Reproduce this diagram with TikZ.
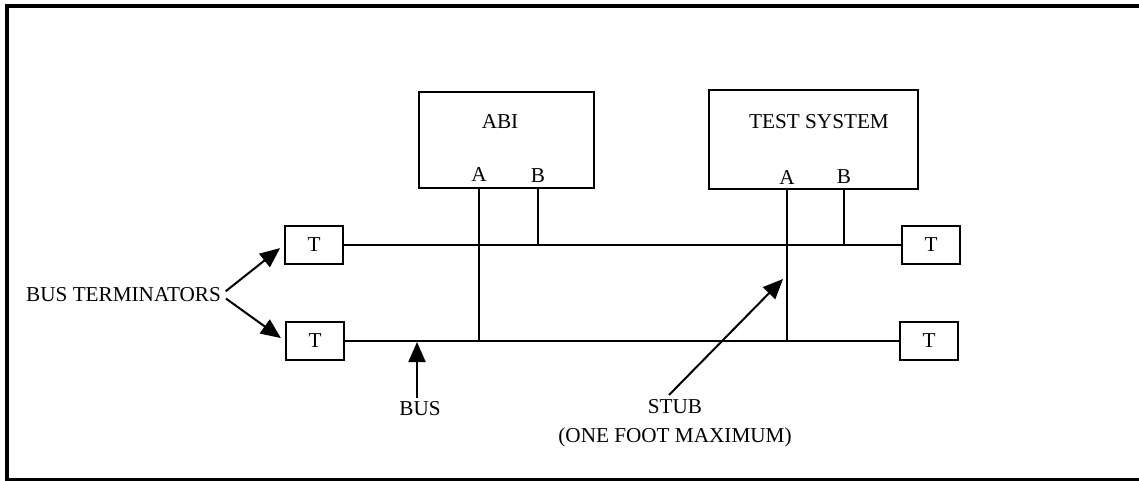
\documentclass[tikz,border=0pt]{standalone}
\usepackage{fontspec}
\setmainfont{Liberation Serif}
\usetikzlibrary{arrows.meta}
\newcommand{\term}[3]{
	\node[termbox] (#1) at (#2,#3) {T};
	}

\begin{document}
\begin{tikzpicture}[
      x=1pt, y=-1pt, %one unit is one pixel of the reference
      font=\fontsize{21.2}{29}\selectfont,
      wire/.style={line width=2pt},
      frame/.style={line width=4pt},
      termbox/.style={draw, line width=2pt, minimum width=58pt, minimum height=38pt, inner sep=0pt},
      unit/.style={draw, line width=2pt, inner sep=0pt},
      pin/.style={inner sep=0pt},
      pointer/.style={line width=2pt, -{Triangle[length=20pt,width=17pt]}}
    ]
    \useasboundingbox (0,0) rectangle (1139,481);
    % outer frame, its right side runs off the page
    \draw[frame] (1160,6) -- (7,6) -- (7,479.5) -- (1160,479.5);
    % the two units
    \node[unit, minimum width=175pt, minimum height=96pt] (abi) at (506.5,140) {};
    \node[inner sep=0pt] (abitxt) at (500,122) {ABI};
    \node[unit, minimum width=209pt, minimum height=99pt] (test) at (813.5,139.5) {};
    \node[inner sep=0pt] (testtxt) at (819,122) {TEST SYSTEM};
    % pin letters
    \node[pin] (abiA) at (479,175) {A};
    \node[pin] (abiB) at (538,176) {B};
    \node[pin] (testA) at (787,178) {A};
    \node[pin] (testB) at (844,177) {B};
    % bus terminators
    \term{tl1}{314}{245}
    \term{tl2}{315}{341}
    \term{tr1}{931}{245}
    \term{tr2}{929}{341}
    % the two bus lines
    \draw[wire] (tl1.east) -- (tr1.west);
    \draw[wire] (tl2.east) -- (tr2.west);
    % stubs from the pins
    \draw[wire] (abi.south -| abiA) -- (abiA |- tl2.east);
    \draw[wire] (abi.south -| abiB) -- (abiB |- tl1.east);
    \draw[wire] (test.south -| testA) -- (testA |- tl2.east);
    \draw[wire] (test.south -| testB) -- (testB |- tl1.east);
    % callouts
    \node[inner sep=0pt, anchor=east] (bterm) at (221,295) {BUS TERMINATORS};
    \draw[pointer, shorten <=6pt, shorten >=5pt] (bterm.east) -- (tl1.west);
    \draw[pointer, shorten <=6pt, shorten >=5pt] (bterm.east) -- (tl2.west);
    \node[inner sep=0pt] (buslbl) at (420,409) {BUS};
    \coordinate (bustip) at (417,342);
    \draw[pointer, shorten <=4pt] (buslbl.north -| bustip) -- (bustip);
    \node[inner sep=0pt, align=center] (stub) at (675,423) {STUB\\(ONE FOOT MAXIMUM)};
    \coordinate (stubtail) at (669,395);
    \coordinate (stubtip) at (783,279);
    \draw[pointer] (stubtail) -- (stubtip);
\end{tikzpicture}
\end{document}
